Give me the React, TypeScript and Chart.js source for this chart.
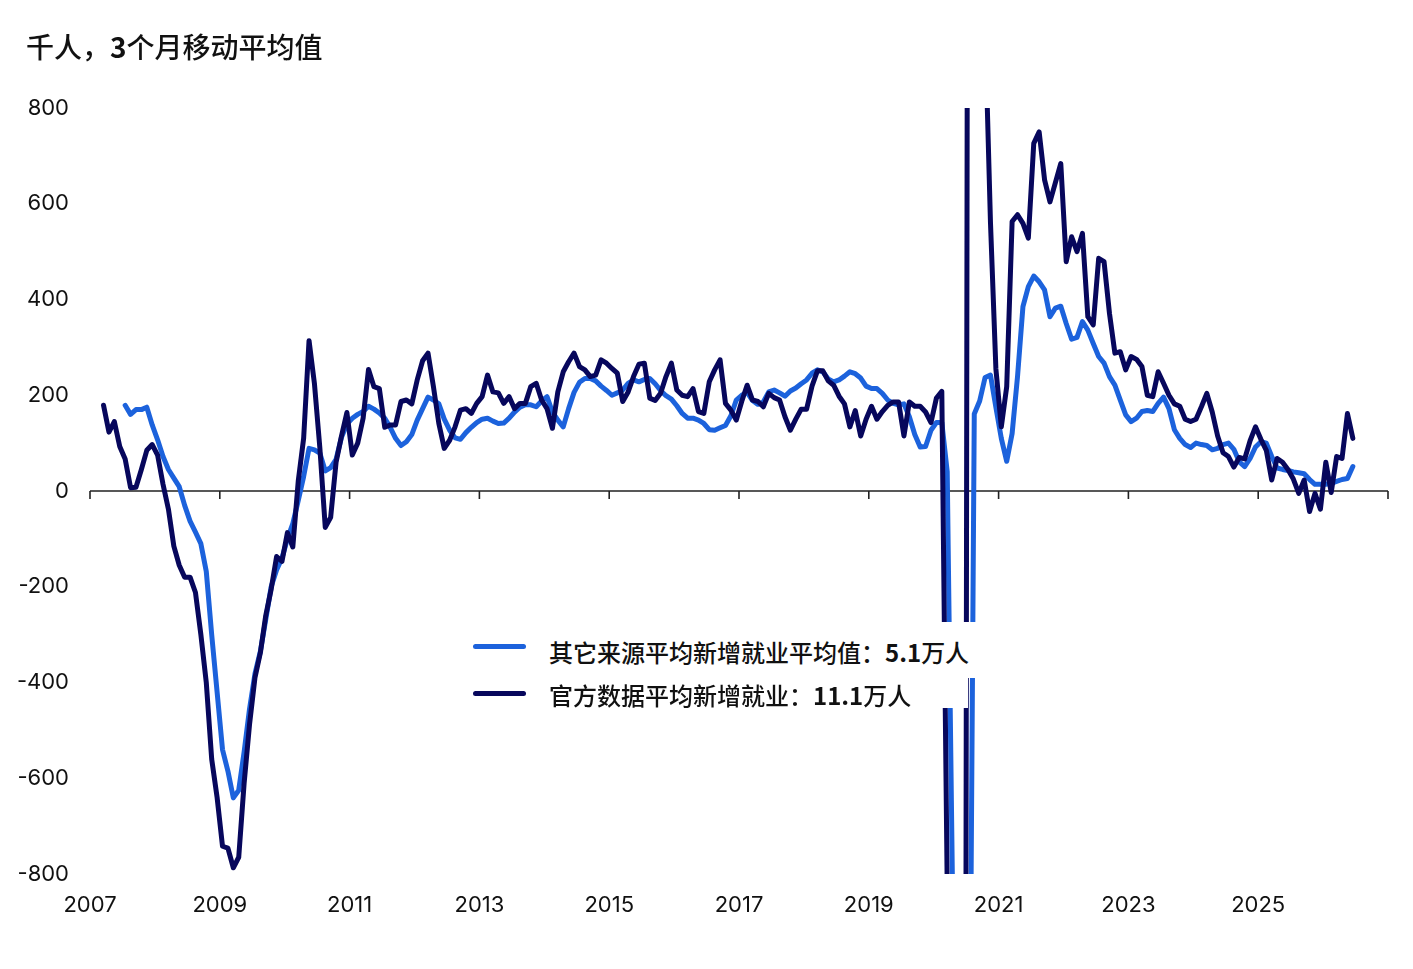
import { useEffect, useRef } from 'react';
import Chart from 'chart.js/auto';

// months are counted from Jan 2007 (index 0)
const START_YEAR = 2007;
const yearTicks = [2007, 2009, 2011, 2013, 2015, 2017, 2019, 2021, 2023, 2025, 2027];
const yTicks = [-800, -600, -400, -200, 0, 200, 400, 600, 800];

// 官方数据 (thousands, 3m avg), first point = Mar 2007
const officialStart = 2;
const officialValues = [
  179, 123, 145, 93, 67, 7, 8, 45, 85, 97,
  75, 14, -38, -115, -155, -180, -180, -212, -300, -400, -560, -640,
  -742, -746, -787, -765, -610, -487, -390, -338, -260, -205, -137, -147,
  -87, -117, 20, 110, 314, 224, 90, -76, -55, 60, 115, 164,
  75, 100, 152, 254, 218, 214, 133, 138, 138, 187, 190, 182,
  232, 272, 288, 218, 141, 89, 106, 134, 169, 172, 162, 183,
  197, 242, 207, 205, 183, 197, 172, 183, 183, 218, 225, 190,
  172, 131, 207, 249, 270, 288, 260, 253, 239, 242, 274, 267,
  256, 246, 187, 207, 239, 265, 267, 194, 189, 204, 239, 267,
  211, 200, 197, 214, 166, 162, 228, 253, 274, 183, 169, 148,
  187, 221, 190, 187, 176, 204, 195, 190, 155, 127, 150, 171,
  171, 219, 251, 251, 230, 221, 198, 182, 134, 168, 115, 150,
  177, 150, 166, 179, 186, 186, 115, 186, 177, 177, 165, 143,
  194, 208, -830, -7000, -6400, -4300, 3100, 2700, 1300, 970, 560, 255,
  134, 218, 563, 577, 559, 528, 726, 750, 650, 604, 644, 684,
  479, 531, 500, 538, 364, 347, 486, 479, 371, 288, 291, 253,
  281, 275, 260, 200, 197, 249, 225, 200, 182, 177, 150, 145,
  150, 176, 204, 165, 115, 80, 72, 50, 70, 67, 105, 134,
  108, 85, 23, 68, 60, 45, 25, -5, 23, -43, -5, -38,
  60, -3, 72, 68, 162, 110,
];

// 其它来源 (thousands, 3m avg), first point = Jul 2007
const otherStart = 6;
const otherValues = [
  179, 160, 170, 170, 175, 138,
  107, 72, 45, 27, 9, -30, -63, -86, -110, -168, -300, -420,
  -540, -585, -641, -625, -545, -455, -382, -335, -268, -200, -165, -140,
  -100, -68, -20, 30, 89, 86, 79, 42, 49, 66, 112, 140,
  152, 160, 166, 177, 171, 163, 152, 133, 110, 95, 103, 118,
  148, 172, 196, 190, 182, 150, 127, 111, 108, 122, 133, 143,
  150, 152, 146, 141, 142, 152, 165, 175, 180, 180, 176, 188,
  197, 165, 148, 134, 172, 206, 227, 235, 235, 230, 219, 210,
  200, 205, 211, 225, 232, 228, 233, 235, 224, 210, 199, 192,
  178, 162, 152, 152, 148, 141, 128, 127, 132, 137, 157, 190,
  200, 206, 189, 181, 186, 207, 211, 205, 198, 209, 215, 224,
  232, 246, 253, 249, 234, 228, 232, 240, 249, 245, 236, 219,
  214, 214, 204, 190, 183, 180, 182, 155, 118, 92, 93, 127,
  143, 143, 40, -850, -4000, -3500, -1500, 161, 188, 237, 242, 175,
  110, 62, 120, 239, 385, 427, 449, 437, 420, 364, 382, 386,
  350, 317, 321, 354, 336, 308, 281, 267, 239, 221, 190, 159,
  145, 152, 166, 168, 166, 183, 196, 172, 128, 110, 97, 91,
  100, 97, 95, 86, 89, 97, 100, 87, 61, 51, 68, 92,
  103, 100, 72, 48, 45, 43, 40, 38, 36, 24, 14, 14,
  14, 16, 20, 24, 26, 51,
];

const OTHER_COLOR = '#1c62dc';
const OFFICIAL_COLOR = '#07075c';
const CJK = '"Noto Sans CJK SC", "Noto Sans", sans-serif';

const toPoints = (start: number, values: number[]) =>
  values.map((v, k) => ({ x: START_YEAR + (start + k + 0.5) / 12, y: v }));

// zero line with small tick marks hanging under it
const zeroAxis = {
  id: 'zeroAxis',
  beforeDatasetsDraw(chart: any) {
    const { ctx, chartArea, scales } = chart;
    const y0 = scales.y.getPixelForValue(0);
    ctx.save();
    ctx.strokeStyle = '#222';
    ctx.lineWidth = 1.6;
    ctx.beginPath();
    ctx.moveTo(chartArea.left, y0);
    ctx.lineTo(chartArea.right, y0);
    yearTicks.forEach((yr) => {
      const x = scales.x.getPixelForValue(yr);
      ctx.moveTo(x, y0);
      ctx.lineTo(x, y0 + 8);
    });
    ctx.stroke();
    ctx.restore();
  },
};

export default function App() {
  const canvasRef = useRef<HTMLCanvasElement>(null);
  const chartRef = useRef<Chart | null>(null);

  useEffect(() => {
    document.body.style.margin = '0';
    if (!canvasRef.current) return;
    if (chartRef.current) chartRef.current.destroy();

    const tickFont = { family: 'Inter, "DejaVu Sans", sans-serif', size: 22 };

    chartRef.current = new Chart(canvasRef.current, {
      type: 'line',
      data: {
        datasets: [
          {
            label: '官方数据平均新增就业',
            data: toPoints(officialStart, officialValues),
            borderColor: OFFICIAL_COLOR,
            borderWidth: 5,
            pointRadius: 0,
            tension: 0,
            borderJoinStyle: 'round',
            borderCapStyle: 'round',
            order: 0,
          },
          {
            label: '其它来源平均新增就业',
            data: toPoints(otherStart, otherValues),
            borderColor: OTHER_COLOR,
            borderWidth: 5,
            pointRadius: 0,
            tension: 0,
            borderJoinStyle: 'round',
            borderCapStyle: 'round',
            order: 1,
          },
        ],
      },
      options: {
        animation: false,
        responsive: true,
        maintainAspectRatio: false,
        layout: { padding: { top: 108, right: 25, bottom: 0, left: 0 } },
        plugins: {
          legend: { display: false },
          tooltip: { enabled: false },
        },
        scales: {
          x: {
            type: 'linear',
            min: 2007,
            max: 2027,
            grid: { display: false, drawTicks: false },
            border: { display: false },
            afterBuildTicks: (s: any) => {
              s.ticks = yearTicks.map((value) => ({ value }));
            },
            ticks: {
              autoSkip: false,
              maxRotation: 0,
              padding: 18,
              color: '#111',
              font: tickFont,
              callback: (v: any) => (v === 2027 ? '' : String(v)),
            },
            afterFit: (s: any) => {
              s.height = 95;
            },
          },
          y: {
            min: -800,
            max: 800,
            grid: { display: false, drawTicks: false },
            border: { display: false },
            afterBuildTicks: (s: any) => {
              s.ticks = yTicks.map((value) => ({ value }));
            },
            ticks: {
              padding: 21,
              color: '#111',
              font: tickFont,
            },
            afterFit: (s: any) => {
              s.width = 90;
            },
          },
        },
      },
      plugins: [zeroAxis],
    });

    return () => {
      if (chartRef.current) {
        chartRef.current.destroy();
        chartRef.current = null;
      }
    };
  }, []);

  const legendText = { position: 'absolute' as const, left: 87, fontSize: 24, lineHeight: '24px', whiteSpace: 'nowrap' as const, color: '#111', fontWeight: 500 };

  return (
    <div style={{ position: 'relative', width: 1413, height: 969, overflow: 'hidden', background: '#fff', fontFamily: CJK }}>
      <div style={{ position: 'absolute', left: 0, top: 0, width: 1413, height: 969 }}>
        <canvas ref={canvasRef} />
      </div>

      <div style={{ position: 'absolute', left: 26, top: 31, fontSize: 28, lineHeight: '30px', fontWeight: 500, color: '#111', whiteSpace: 'nowrap' }}>
        千人，<b>3</b>个月移动平均值
      </div>

      {/* legend rows sit on white boxes that hide the lines underneath */}
      <div style={{ position: 'absolute', left: 462, top: 622, width: 528, height: 56, background: '#fff' }}>
        <div style={{ position: 'absolute', left: 11, top: 21.5, width: 53, height: 5, borderRadius: 3, background: OTHER_COLOR }} />
        <span style={{ ...legendText, top: 18 }}>
          其它来源平均新增就业平均值：<b>5.1</b>万人
        </span>
      </div>
      <div style={{ position: 'absolute', left: 462, top: 678, width: 506, height: 30, background: '#fff' }}>
        <div style={{ position: 'absolute', left: 11, top: 12.5, width: 53, height: 5, borderRadius: 3, background: OFFICIAL_COLOR }} />
        <span style={{ ...legendText, top: 5 }}>
          官方数据平均新增就业：<b>11.1</b>万人
        </span>
      </div>
    </div>
  );
}
